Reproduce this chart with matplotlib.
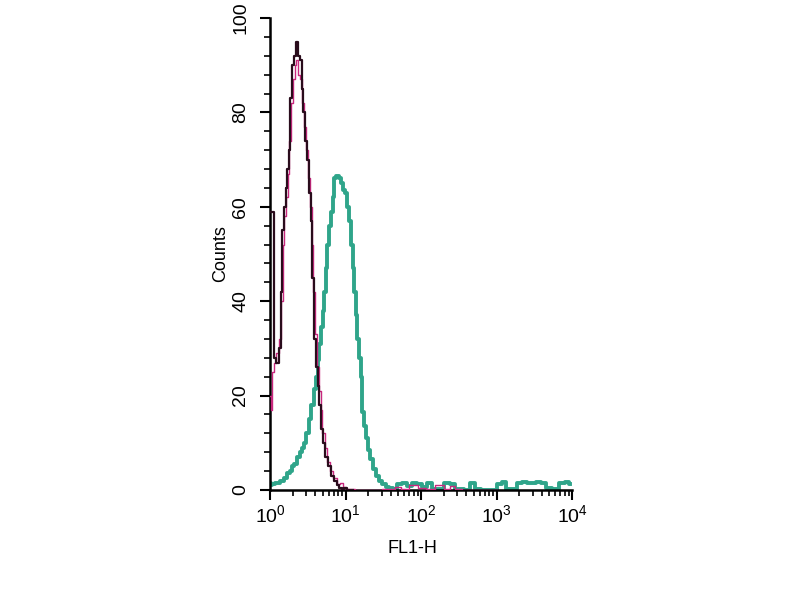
import matplotlib
matplotlib.use("Agg")
import matplotlib.pyplot as plt
from matplotlib.ticker import LogLocator, MultipleLocator, NullFormatter

plt.rcParams['font.family'] = ['Liberation Sans', 'DejaVu Sans']

# Black histogram (control)
black_x = [1.0, 1.08, 1.16, 1.25, 1.36, 1.43, 1.49, 1.58, 1.66, 1.75, 1.80, 1.90, 2.03, 2.15, 2.26, 2.40,
           2.55, 2.68, 2.80, 3.0, 3.18, 3.40, 3.56, 3.75, 3.95, 4.15, 4.37, 4.60, 4.84, 5.2, 5.64, 6.2,
           6.83, 7.4, 7.93, 8.6, 9.3, 10.0, 11.0, 12.5]
black_y = [59, 59, 28, 27, 30, 42, 55, 60, 64, 68, 72, 83, 90, 92, 95, 92,
           91, 85, 80, 74, 70, 63, 57, 45, 32, 26, 22, 18, 13, 10, 7, 5,
           3, 2, 1, 0.5, 0.3, 0.5, 0, 0]

# Magenta histogram (second control)
mag_x = [1.0, 1.05, 1.10, 1.16, 1.25, 1.36, 1.43, 1.50, 1.60, 1.68, 1.77, 1.85, 1.95, 2.06, 2.18, 2.30, 2.45,
         2.60, 2.75, 2.90, 3.05, 3.25, 3.45, 3.65, 3.85, 4.05, 4.30, 4.55, 4.80, 5.1, 5.5, 6.0, 6.5,
         7.2, 8.0, 8.8, 9.6, 10.5, 12.0, 15.0, 20.0, 40.0, 50.0, 60.0, 80.0, 100.0, 130.0, 180.0,
         220.0, 260.0, 300.0, 400.0, 1000.0]
mag_y = [20, 17, 25, 27, 29, 32, 40, 52, 58, 62, 67, 74, 82, 87, 90, 91, 88,
         87, 82, 77, 72, 66, 60, 52, 42, 33, 26, 21, 17, 12, 9, 6, 4,
         2.5, 1.2, 1.5, 0.6, 0.3, 0.2, 0, 0, 0.2, 0.6, 0.2, 1.0, 0.4, 0.3, 1.0,
         0.2, 0.8, 0.3, 0, 0]

# Teal histogram (stained sample)
teal_x = [1.0, 1.05, 1.10, 1.20, 1.30, 1.45, 1.58, 1.75, 1.90, 2.02, 2.20, 2.40, 2.60, 2.74, 2.90,
          3.10, 3.39, 3.65, 3.95, 4.15, 4.37, 4.60, 4.84, 5.10, 5.35, 5.62, 5.92, 6.20, 6.56, 6.90,
          7.25, 7.8, 8.4, 9.0, 9.6, 10.2, 10.8, 11.4, 12.1, 12.7, 13.3, 13.9, 14.6, 15.5, 16.4, 17.0,
          18.0, 19.1, 20.5, 22.2, 24.5, 26.5, 28.5, 32.0, 36.0, 40.0, 45.0, 52.0, 60.0, 70.0,
          82.0, 95.0, 110.0, 130.0, 150.0, 180.0, 220.0, 260.0, 300.0, 340.0, 400.0, 490.0, 560.0,
          700.0, 900.0, 1100.0, 1250.0, 1400.0, 1700.0, 2000.0, 2300.0, 2700.0, 3100.0, 3600.0,
          4200.0, 4800.0, 6000.0, 7600.0, 8500.0, 9500.0]
teal_y = [1.5, 1.0, 1.2, 1.5, 1.5, 2.0, 2.5, 3.5, 4.0, 5.0, 5.5, 7.0, 8.0, 9.0, 10.0,
          12.0, 15.0, 18.0, 21.5, 24.0, 27.5, 31.0, 34.5, 38.0, 42.0, 47.0, 52.0, 56.0, 59.0, 62.0,
          66.0, 66.5, 66.0, 65.0, 63.5, 63.0, 60.0, 57.0, 52.0, 47.0, 42.0, 37.0, 32.0, 28.0, 24.0, 16.5,
          13.5, 11.0, 8.5, 6.5, 4.5, 3.0, 2.0, 1.2, 0.6, 0.4, 0.3, 1.2, 1.5, 0.8,
          1.5, 1.2, 0.6, 1.5, 0.3, 0.2, 1.5, 1.3, 0.3, 0.2, 0.1, 1.5, 0.2,
          0.1, 0.1, 1.2, 1.6, 0.3, 0.2, 1.5, 1.6, 1.5, 1.4, 1.6,
          1.5, 0.4, 0.2, 1.5, 1.6, 1.2]

fig = plt.figure(figsize=(8, 6), dpi=100)
ax = fig.add_axes([0.3375, 0.1833, 0.3775, 0.7867])

ax.plot(teal_x, teal_y, drawstyle='steps-mid', color='#2fa58a', lw=2.8, zorder=2)
ax.plot(mag_x, mag_y, drawstyle='steps-mid', color='#c8287e', lw=1.0, zorder=3)
ax.plot(black_x, black_y, drawstyle='steps-mid', color='#2a0c1c', lw=1.6, zorder=4)

ax.set_xscale('log')
ax.set_xlim(1, 1e4)
ax.set_ylim(0, 100)

ax.xaxis.set_major_locator(LogLocator(base=10, numticks=10))
ax.xaxis.set_minor_locator(LogLocator(base=10, subs=range(2, 10), numticks=50))
ax.xaxis.set_minor_formatter(NullFormatter())
ax.yaxis.set_major_locator(MultipleLocator(20))
ax.yaxis.set_minor_locator(MultipleLocator(4))

for s in ['top', 'right']:
    ax.spines[s].set_visible(False)
for s in ['left', 'bottom']:
    ax.spines[s].set_linewidth(1.8)
    ax.spines[s].set_color('black')

ax.tick_params(axis='both', which='major', direction='out', length=7, width=1.5, labelsize=14, pad=3)
ax.tick_params(axis='both', which='minor', direction='out', length=4, width=1.2)
ax.tick_params(axis='y', which='major', pad=8)
for lab in ax.get_yticklabels():
    lab.set_rotation(90)
    lab.set_va('center')

ax.set_ylabel('Counts', fontsize=13, labelpad=2)
ax.set_xlabel('FL1-H', fontsize=13)
ax.xaxis.set_label_coords(0.47, -0.105)

fig.savefig('out.png', dpi=100)
